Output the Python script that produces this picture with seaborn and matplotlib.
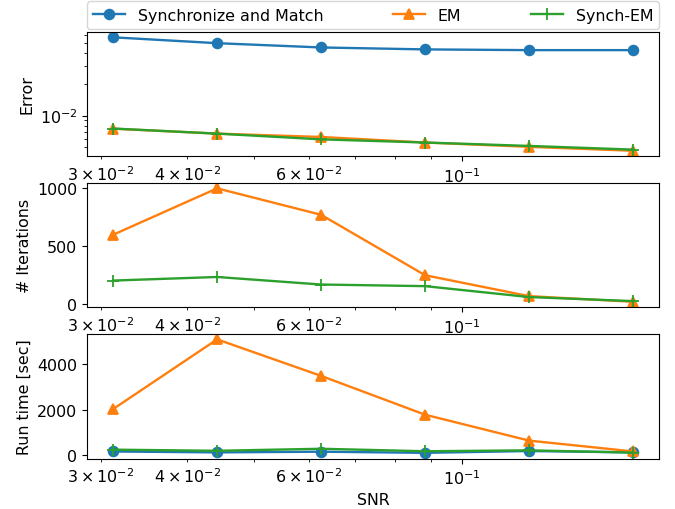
import matplotlib
matplotlib.use('Agg')
import matplotlib.pyplot as plt
import numpy as np
import seaborn as sns

plt.rcParams['font.size'] = 11.4

snr = [0.03125, 0.0442, 0.0625, 0.0884, 0.125, 0.177]

err_sm = [0.0566, 0.0497, 0.0452, 0.0433, 0.0426, 0.0426]
err_em = [0.00747, 0.0067, 0.00622, 0.0055, 0.0050, 0.00458]
err_sem = [0.0075, 0.0067, 0.0059, 0.0055, 0.0051, 0.0047]

iter_em = [600, 1000, 772, 251, 71, 22]
iter_sem = [205, 236, 171, 157, 63, 28]

time_sm = [150, 110, 140, 90, 170, 110]
time_em = [2022, 5099, 3487, 1773, 630, 150]
time_sem = [230, 180, 270, 160, 200, 100]

names = ['Synchronize and Match', 'EM', 'Synch-EM']
styles = [('C0', 'o'), ('C1', '^'), ('C2', '+')]

fig, ax = plt.subplots(3, 1, figsize=(6.75, 5.1), dpi=100)
fig.subplots_adjust(left=0.129, right=0.977, top=0.936, bottom=0.099, hspace=0.21)


def draw(a, y, k):
    c, m = styles[k]
    sns.lineplot(x=snr, y=y, ax=a, color=c, marker=m, markersize=7 if m != '+' else 8,
                 markeredgecolor=c, markeredgewidth=1.3, linewidth=1.7, label=names[k])


draw(ax[0], err_sm, 0)
draw(ax[0], err_em, 1)
draw(ax[0], err_sem, 2)
ax[0].set_yscale('log')
ax[0].set_ylabel('Error')

draw(ax[1], iter_em, 1)
draw(ax[1], iter_sem, 2)
ax[1].set_ylabel('# Iterations')

draw(ax[2], time_sm, 0)
draw(ax[2], time_em, 1)
draw(ax[2], time_sem, 2)
ax[2].set_ylabel('Run time [sec]')
ax[2].set_xlabel('SNR')

for a in ax:
    a.set_xscale('log')
    if a.get_legend() is not None:
        a.get_legend().remove()

ax[0].legend(bbox_to_anchor=(0, 1.02, 1, 0.2), loc='lower left', mode='expand',
             ncol=3, borderaxespad=0)

fig.savefig('out.png', dpi=100)
